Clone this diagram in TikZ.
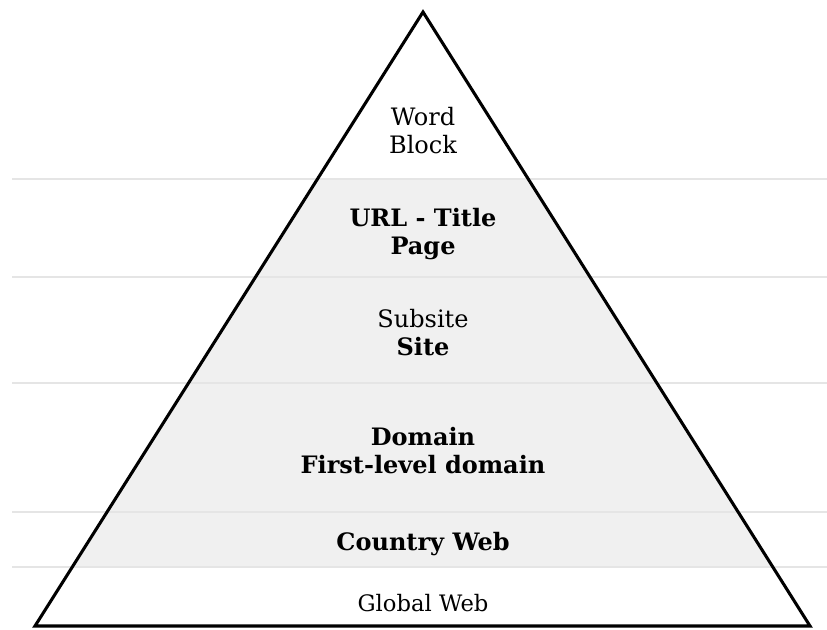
\documentclass[tikz,border=0pt]{standalone}
\usepackage{fontspec}
\setmainfont{DejaVu Serif}

\begin{document}
\begin{tikzpicture}
  [x=0.75pt,y=-0.75pt,every node/.style={align=center,font=\fontsize{18}{21}\selectfont}]
  \useasboundingbox (0,0) rectangle (827,629);

  % corners of the pyramid
  \coordinate (top) at (423,12);
  \coordinate (bl) at (35,626);
  \coordinate (br) at (810,626);

  % grey middle levels, only inside the pyramid
  \begin{scope}
    \clip (bl) -- (top) -- (br) -- cycle;
    \fill[black!6] (0,179) rectangle (827,567);
  \end{scope}

  \foreach \y in {179,277,383,512,567}
    \draw[black!10,line width=0.8pt] (12,\y) -- (827,\y);

  \draw[line width=2.3pt] (bl) -- (top) -- (br) -- cycle;

  \node (word) at (423,131) {Word\\Block};
  \node (page) at (423,234) {\bfseries URL - Title\\\bfseries Page};
  \node (site) at (423,333) {Subsite\\\bfseries Site};
  \node (domain) at (423,451) {\bfseries Domain\\\bfseries First-level domain};
  \node (country) at (423,544) {\bfseries Country Web};
  \node[font=\fontsize{17}{20}\selectfont] (global) at (423,603) {Global Web};
\end{tikzpicture}
\end{document}
